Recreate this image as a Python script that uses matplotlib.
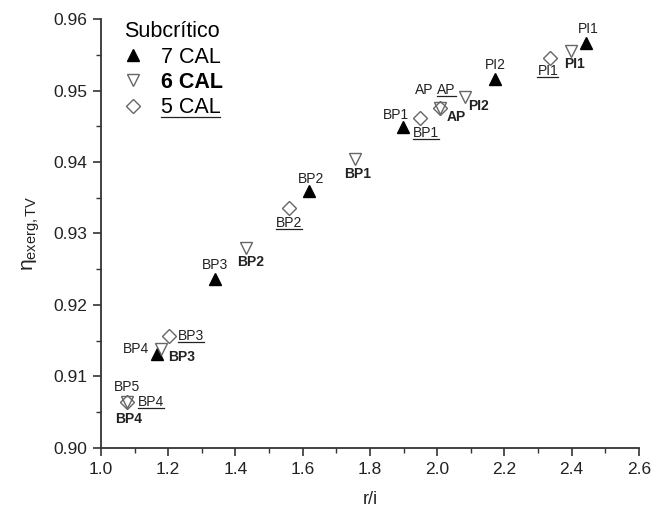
import numpy as np
import matplotlib.pyplot as plt
from matplotlib.lines import Line2D
from matplotlib.ticker import MultipleLocator, FormatStrFormatter

plt.rcParams['font.family'] = ['Liberation Sans', 'DejaVu Sans']
plt.rcParams['mathtext.fontset'] = 'custom'
plt.rcParams['mathtext.rm'] = 'Liberation Sans'
plt.rcParams['mathtext.it'] = 'Liberation Sans:italic'

# 7 CAL (filled triangles) - AP and BP5 have only a label, marker hidden
lab7 = ['PI1', 'PI2', 'AP', 'BP1', 'BP2', 'BP3', 'BP4', 'BP5']
x7 = [2.444, 2.173, 2.007, 1.898, 1.618, 1.340, 1.168, 1.077]
y7 = [0.9567, 0.9516, 0.9475, 0.9449, 0.9360, 0.9236, 0.9131, 0.9064]
hidden7 = ['AP', 'BP5']

# 6 CAL (open down triangles)
lab6 = ['PI1', 'PI2', 'AP', 'BP1', 'BP2', 'BP3', 'BP4']
x6 = [2.398, 2.082, 2.007, 1.757, 1.430, 1.180, 1.077]
y6 = [0.9556, 0.9491, 0.9475, 0.9404, 0.9279, 0.9139, 0.9064]

# 5 CAL (open diamonds)
lab5 = ['PI1', 'AP', 'BP1', 'BP2', 'BP3', 'BP4']
x5 = [2.335, 2.007, 1.950, 1.559, 1.201, 1.077]
y5 = [0.9546, 0.9475, 0.9461, 0.9335, 0.9156, 0.9064]

# label offsets in pixels (dx, dy, ha)
off7 = {'PI1': (2, 14, 'center'), 'PI2': (0, 14, 'center'), 'AP': (-15, 18, 'center'),
        'BP1': (-7, 12, 'center'), 'BP2': (2, 12, 'center'), 'BP3': (0, 14, 'center'),
        'BP4': (-8, 5, 'right'), 'BP5': (0, 15, 'center')}
off6 = {'PI1': (4, -13, 'center'), 'PI2': (14, -9, 'center'), 'AP': (17, -9, 'center'),
        'BP1': (2, -15, 'center'), 'BP2': (5, -14, 'center'), 'BP3': (20, -8, 'center'),
        'BP4': (2, -17, 'center')}
off5 = {'PI1': (-2, -13, 'center'), 'AP': (7, 18, 'center'), 'BP1': (6, -15, 'center'),
        'BP2': (0, -15, 'center'), 'BP3': (9, 0, 'left'), 'BP4': (11, 0, 'left')}

fig = plt.figure(figsize=(6.6, 5.16), dpi=100)
ax = fig.add_axes([0.153, 0.132, 0.815, 0.831])

grey = '#666666'
mask = [l not in hidden7 for l in lab7]
ax.plot(np.array(x7)[mask], np.array(y7)[mask], ls='none', marker='^', ms=8.5,
        mfc='black', mec='black', label='7 CAL', zorder=3)
ax.plot(x6, y6, ls='none', marker='v', ms=8.5, mfc='none', mec=grey, mew=1.0,
        label='6 CAL', zorder=4)
ax.plot(x5, y5, ls='none', marker='D', ms=7, mfc='none', mec=grey, mew=1.0,
        label='5 CAL', zorder=4)

fs_pt = 10
underlined = []
for l, x, y in zip(lab7, x7, y7):
    dx, dy, ha = off7[l]
    ax.annotate(l, (x, y), xytext=(dx, dy), textcoords='offset pixels',
                ha=ha, va='center', fontsize=fs_pt, color='#222222')
for l, x, y in zip(lab6, x6, y6):
    dx, dy, ha = off6[l]
    ax.annotate(l, (x, y), xytext=(dx, dy), textcoords='offset pixels',
                ha=ha, va='center', fontsize=fs_pt, fontweight='bold', color='#222222')
for l, x, y in zip(lab5, x5, y5):
    dx, dy, ha = off5[l]
    t = ax.annotate(l, (x, y), xytext=(dx, dy), textcoords='offset pixels',
                    ha=ha, va='center', fontsize=fs_pt, color='#222222')
    underlined.append(t)

ax.set_xlim(1.0, 2.6)
ax.set_ylim(0.90, 0.96)
ax.xaxis.set_major_locator(MultipleLocator(0.2))
ax.xaxis.set_minor_locator(MultipleLocator(0.1))
ax.yaxis.set_major_locator(MultipleLocator(0.01))
ax.yaxis.set_minor_locator(MultipleLocator(0.005))
ax.xaxis.set_major_formatter(FormatStrFormatter('%.1f'))
ax.yaxis.set_major_formatter(FormatStrFormatter('%.2f'))
for s in ['top', 'right']:
    ax.spines[s].set_visible(False)
for s in ['left', 'bottom']:
    ax.spines[s].set_linewidth(1.3)
    ax.spines[s].set_color('#333333')
ax.tick_params(which='major', direction='out', length=6, width=1.2, color='#333333',
               labelsize=12.5, labelcolor='#222222', pad=4)
ax.tick_params(which='minor', direction='out', length=3.5, width=1.0, color='#333333')
ax.set_xlabel('r/i', fontsize=13, color='#222222', labelpad=10)
ax.set_ylabel(r'$\mathregular{\eta_{exerg,TV}}$', fontsize=15, color='#222222', labelpad=8)

leg = ax.legend(loc='upper left', bbox_to_anchor=(0.015, 1.03), frameon=False,
                title='Subcrítico', title_fontsize=15.5, fontsize=15.5,
                handletextpad=0.9, labelspacing=0.2, handlelength=0.8,
                alignment='left', borderaxespad=0.3)
texts = leg.get_texts()
texts[1].set_fontweight('bold')
underlined.append(texts[2])

fig.canvas.draw()
for t in underlined:
    bb = t.get_window_extent().transformed(fig.transFigure.inverted())
    yb = bb.y0 + 0.08 * bb.height
    fig.add_artist(Line2D([bb.x0, bb.x1], [yb, yb], color='#222222', lw=0.9))

fig.savefig('out.png', dpi=100)
